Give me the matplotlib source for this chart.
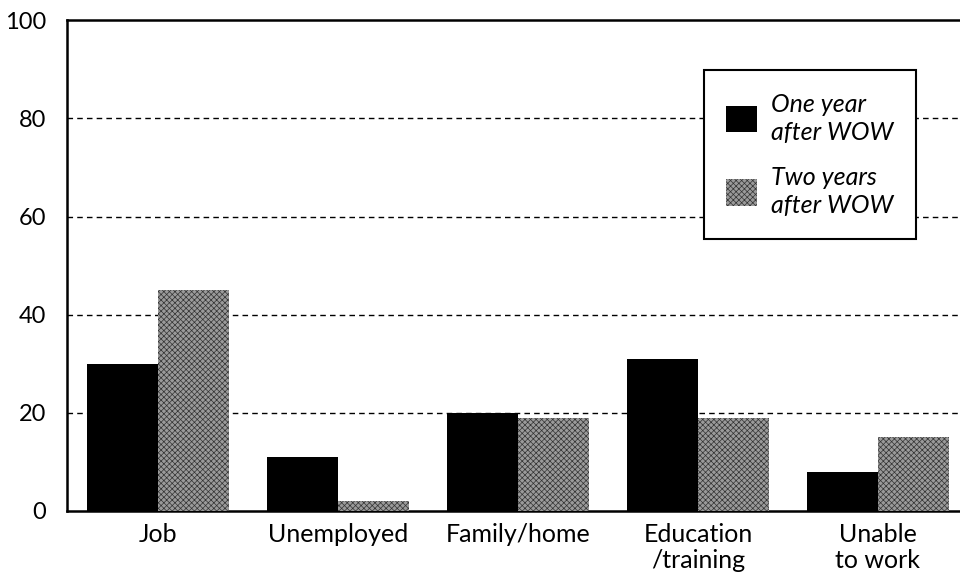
import numpy as np
import matplotlib
matplotlib.use("Agg")
import matplotlib.pyplot as plt

plt.rcParams['font.family'] = ['Lato', 'DejaVu Sans']

categories = ["Job", "Unemployed", "Family/home", "Education\n/training", "Unable\nto work"]
one_year = [30, 11, 20, 31, 8]
two_years = [45, 2, 19, 19, 15]
series_labels = ["One year\nafter WOW", "Two years\nafter WOW"]

fig = plt.figure(figsize=(9.6, 5.78), dpi=100)
ax = fig.add_axes([0.0698, 0.116, 0.9302, 0.849])

x = np.arange(len(categories))
w = 0.395
plt.rcParams['hatch.linewidth'] = 0.5
plt.rcParams['hatch.color'] = '#222222'
b1 = ax.bar(x - w / 2, one_year, w, color='black', label=series_labels[0], zorder=3)
b2 = ax.bar(x + w / 2, two_years, w, color='#9a9a9a', hatch='xxxxxx', edgecolor='#333333',
            linewidth=0, label=series_labels[1], zorder=3)

ax.set_xlim(-0.506, 4.456)
ax.set_ylim(0, 100)
ax.set_yticks([0, 20, 40, 60, 80, 100])
ax.set_xticks(x)
ax.set_xticklabels(categories, fontsize=18, linespacing=1.15)
ax.tick_params(axis='both', length=0)
ax.tick_params(axis='y', pad=15, labelsize=17)
ax.tick_params(axis='x', pad=9)

for v in [20, 40, 60, 80]:
    ax.axhline(v, color='black', linestyle=(0, (4, 3)), linewidth=1, zorder=1)

ax.spines['right'].set_visible(False)
for s in ['left', 'top', 'bottom']:
    ax.spines[s].set_linewidth(1.8)

leg = ax.legend(loc='upper left', bbox_to_anchor=(0.713, 0.898), frameon=True, fancybox=False,
                edgecolor='black', framealpha=1, prop={'style': 'italic', 'size': 18},
                handlelength=1.25, handleheight=1.25, handletextpad=0.55, labelspacing=0.9,
                borderpad=0.9, borderaxespad=0)
for t in leg.get_texts():
    t.set_linespacing(1.25)
leg.get_frame().set_linewidth(1.5)
leg.set_zorder(5)

fig.savefig("out.png", dpi=100)
